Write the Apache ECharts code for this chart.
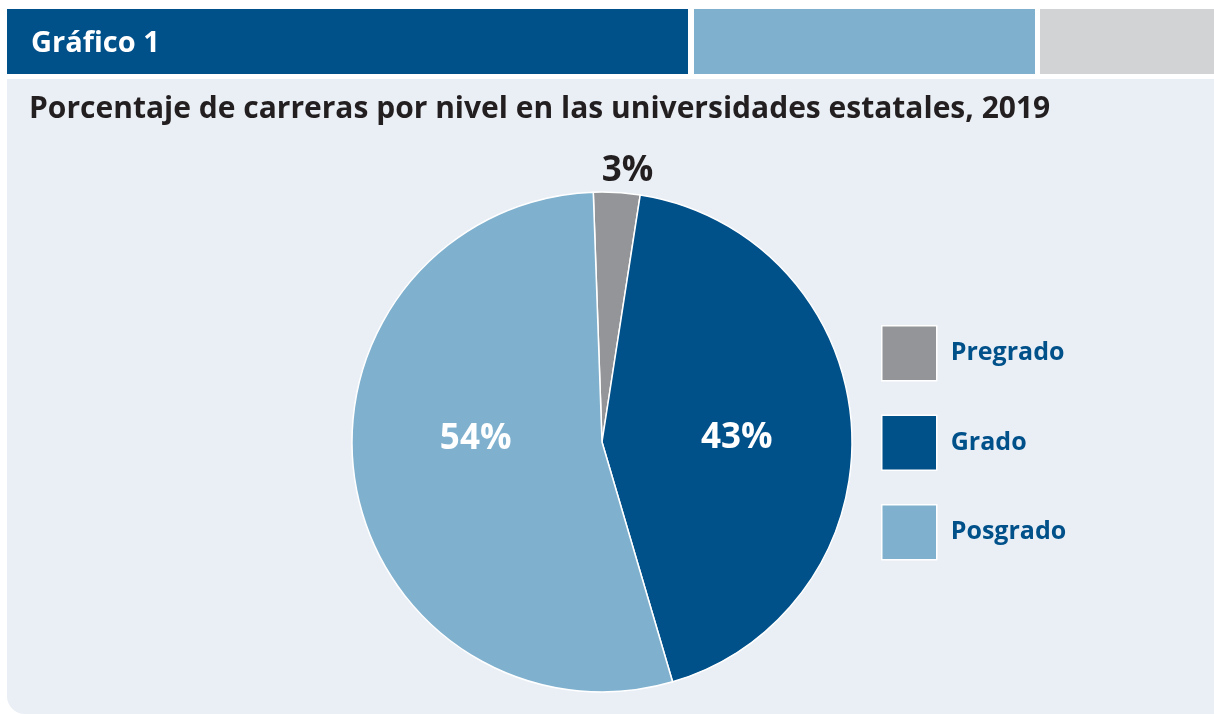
<!DOCTYPE html>
<html>
<head>
<meta charset="utf-8">
<title>Gráfico 1</title>
<script src="https://cdn.jsdelivr.net/npm/echarts@6/dist/echarts.min.js"></script>
<style>
    html, body { margin: 0; padding: 0; background: #ffffff; }
    #chart { width: 1214px; height: 714px; }
</style>
</head>
<body>
<div id="chart"></div>
<script>
    // datos del gráfico
    var categorias = ['Pregrado', 'Grado', 'Posgrado'];
    var porcentajes = [3, 43, 54];

    var colores = ['#939598', '#00508a', '#7fb1cf'];
    var azul = '#00508a';
    var fondo = '#eaeff6';
    var fuente = 'Open Sans';

    // ajuste de etiquetas (como en el original)
    var etiquetaOffset = [[18, -143], [7, 5], [0, -23]];

    var chart = echarts.init(document.getElementById('chart'));

    var datos = categorias.map(function (c, i) {
        return {
            name: c,
            value: porcentajes[i],
            itemStyle: { color: colores[i] },
            label: {
                offset: etiquetaOffset[i],
                color: i === 0 ? '#231f20' : '#ffffff'
            }
        };
    });

    chart.setOption({
        animation: false,
        graphic: [
            { type: 'rect', shape: { x: 7, y: 9, width: 681, height: 65 }, style: { fill: azul }, z: 0 },
            { type: 'rect', shape: { x: 694, y: 9, width: 341, height: 65 }, style: { fill: '#7fb1cf' }, z: 0 },
            { type: 'rect', shape: { x: 1040, y: 9, width: 174, height: 65 }, style: { fill: '#d1d3d4' }, z: 0 },
            { type: 'rect', shape: { x: 7, y: 79, width: 1207, height: 635, r: [0, 0, 0, 18] }, style: { fill: fondo }, z: 0 }
        ],
        title: [{
            text: 'Gráfico 1',
            left: 26,
            top: 24,
            textStyle: { color: '#ffffff', fontFamily: fuente, fontWeight: 'bold', fontSize: 29 }
        }, {
            text: 'Porcentaje de carreras por nivel en las universidades estatales, 2019',
            left: 24,
            top: 89,
            textStyle: { color: '#231f20', fontFamily: fuente, fontWeight: 'bold', fontSize: 30 }
        }],
        legend: {
            orient: 'vertical',
            left: 881,
            top: 325,
            padding: 0,
            itemWidth: 55,
            itemHeight: 55,
            itemGap: 33,
            icon: 'rect',
            data: categorias,
            itemStyle: { borderColor: '#ffffff', borderWidth: 1.5 },
            textStyle: { color: azul, fontFamily: fuente, fontWeight: 'bold', fontSize: 25, padding: [0, 0, 0, 9] },
            selectedMode: false
        },
        series: [{
            type: 'pie',
            center: [602, 442],
            radius: 250,
            startAngle: 92,
            clockwise: true,
            avoidLabelOverlap: false,
            silent: true,
            itemStyle: { borderColor: '#ffffff', borderWidth: 1.5 },
            label: {
                show: true,
                position: 'inside',
                formatter: '{c}%',
                fontFamily: fuente,
                fontWeight: 'bold',
                fontSize: 35
            },
            labelLine: { show: false },
            data: datos
        }]
    });
</script>
</body>
</html>
